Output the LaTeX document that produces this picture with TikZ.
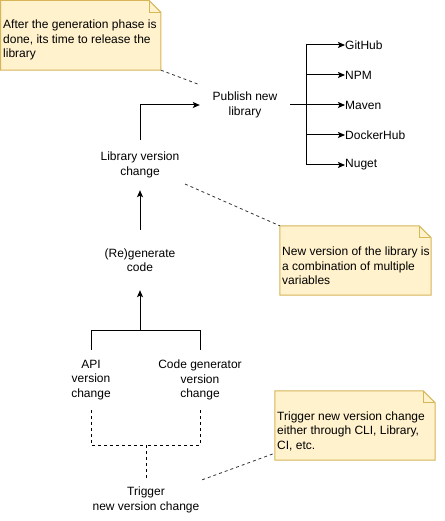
\documentclass[tikz,border=0pt]{standalone}
\usepackage{fontspec}
\setmainfont{Liberation Sans}
\usetikzlibrary{arrows.meta,calc}
\definecolor{notefill}{HTML}{FFF2CC}
\definecolor{noteline}{HTML}{D6B656}
\definecolor{dashgray}{HTML}{333333}
\tikzset{
  lbl/.style={inner sep=0pt, align=center, font=\fontsize{12}{14.5}\selectfont},
  box/.style={lbl, minimum width=#1},
  notebox/.style={inner sep=0pt, draw=none},
  notetext/.style={inner sep=0pt, align=left, anchor=west, font=\fontsize{12}{14.5}\selectfont},
  arr/.style={line width=1pt, -{Stealth[length=7pt,width=6pt,inset=1.5pt]}},
  ln/.style={line width=1pt},
  dsh/.style={line width=1pt, dash pattern=on 3pt off 3pt},
  ndsh/.style={line width=0.8pt, draw=dashgray, dash pattern=on 3pt off 3pt},
  notepath/.style={fill=notefill, draw=noteline, line width=1pt, line join=miter},
}
\newcommand{\notefold}[1]{%
  \draw[notepath] (#1.north west) -- ($(#1.north east)+(-12,0)$) -- ($(#1.north east)+(0,12)$) -- (#1.south east) -- (#1.south west) -- cycle;
  \draw[draw=noteline, line width=0.8pt] ($(#1.north east)+(-12,0)$) -- ($(#1.north east)+(-12,12)$) -- ($(#1.north east)+(0,12)$);
}
\begin{document}
\begin{tikzpicture}[x=1pt,y=-1pt]
\useasboundingbox (0,0) rectangle (444,521);

% notes
\node[notebox, minimum width=160pt, minimum height=69.5pt] (n1) at (80.75,35.25) {};
\notefold{n1}
\node[notetext] (n1t) at (3,40) {After the generation phase is\\done, its time to release the\\library};

\node[notebox, minimum width=151pt, minimum height=69pt] (n2) at (355.5,260.5) {};
\notefold{n2}
\node[notetext] (n2t) at (282,266) {New version of the library is\\a combination of multiple\\variables};

\node[notebox, minimum width=160pt, minimum height=69pt] (n3) at (355,425.5) {};
\notefold{n3}
\node[notetext] (n3t) at (277,431) {Trigger new version change\\either through CLI, Library,\\CI, etc.};

% main nodes
\node[box=90pt, minimum height=40pt] (pub) at (245,105) {Publish new\\library};
\node[box=120pt, minimum height=50pt] (lvc) at (140,165) {Library version\\change};
\node[box=90pt, minimum height=60pt] (regen) at (140,260) {(Re)generate\\code};
\node[box=60pt, minimum height=60pt] (api) at (91,380) {API\\version\\change};
\node[box=90pt, minimum height=60pt] (cg) at (200,380) {Code generator\\version\\change};
\node[box=112pt, minimum height=40pt] (trig) at (146,500) {Trigger\\new version change};

% targets
\node[lbl, anchor=west] (gh) at (345,45) {GitHub};
\node[lbl, anchor=west] (npm) at (345,75) {NPM};
\node[lbl, anchor=west] (mvn) at (345,105) {Maven};
\node[lbl, anchor=west] (dh) at (345,135) {DockerHub};
\node[lbl, anchor=west] (nu) at (345,165) {Nuget};

% connectors
\coordinate (j1) at (140,330);
\coordinate (j2) at (146,445);
\coordinate (br) at (306,105);
\draw[arr] (lvc.north) |- (pub.west);
\draw[arr] (regen.north) -- (lvc.south);
\draw[ln] (api.north) |- (j1);
\draw[ln] (cg.north) |- (j1);
\draw[arr] (j1) -- (regen.south);
\draw[ln] (pub.east) -- (br);
\foreach \t in {gh,npm,mvn,dh,nu} { \draw[arr] (br) |- (\t.west); }

\draw[dsh] (api.south) |- (j2);
\draw[dsh] (cg.south) |- (j2);
\draw[dsh] (j2) -- (trig.north);

% note connectors
\coordinate (c2) at (185,184);
\draw[ndsh] (n1.south east) -- (pub.north west);
\draw[ndsh] (c2) -- (n2.north west);
\draw[ndsh] (trig.north east) -- ($(n3.south west)+(0,-7)$);
\end{tikzpicture}
\end{document}
